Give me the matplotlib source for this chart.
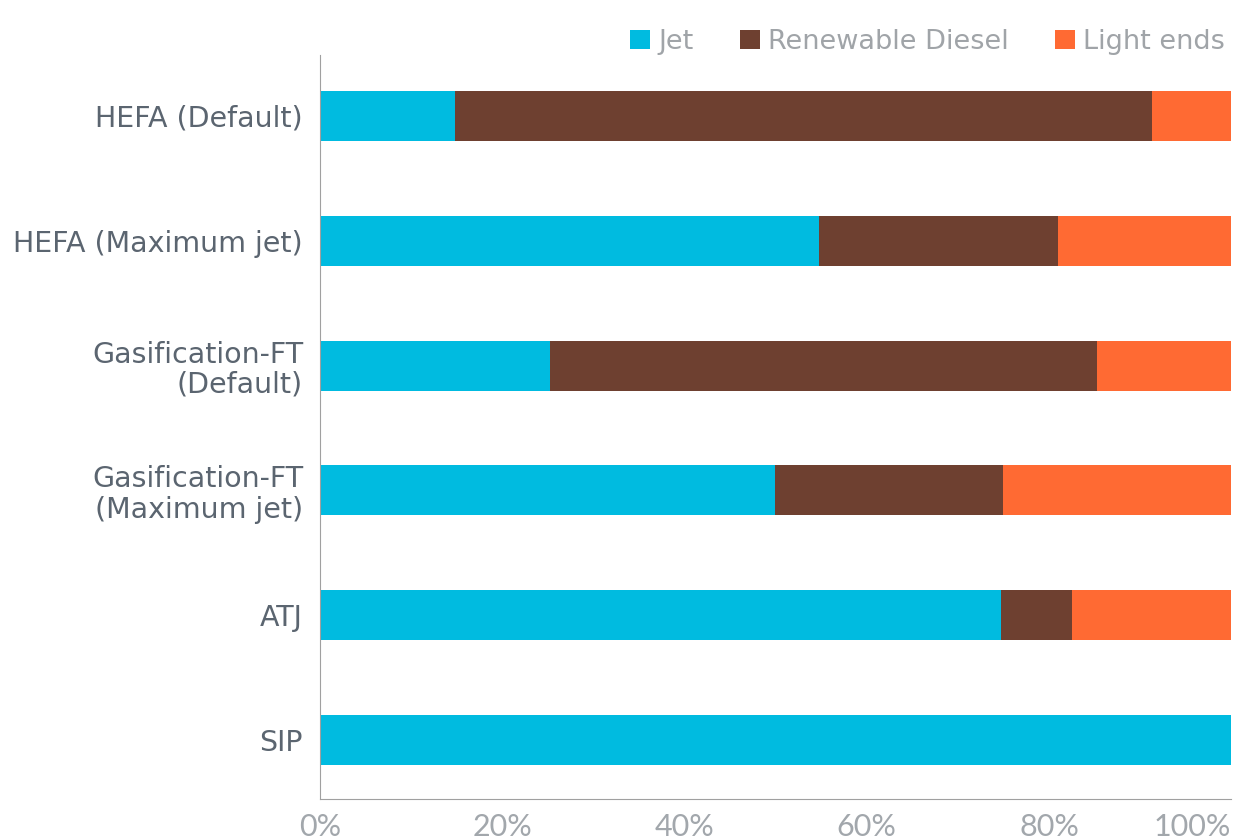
import matplotlib.pyplot as plt
from matplotlib.ticker import PercentFormatter

plt.rcParams['font.family'] = ['DejaVu Sans']

pathways = ['HEFA (Default)', 'HEFA (Maximum jet)', 'Gasification-FT\n(Default)',
            'Gasification-FT\n(Maximum jet)', 'ATJ', 'SIP']
jet = [14.8, 54.8, 25.2, 49.9, 74.7, 100.0]
diesel = [76.5, 26.2, 60.0, 25.0, 7.8, 0.0]
light_ends = [8.7, 19.0, 14.8, 25.1, 17.5, 0.0]

colors = ['#00bbe0', '#6e4030', '#ff6a33']
labels = ['Jet', 'Renewable Diesel', 'Light ends']

fig = plt.figure(figsize=(12.54, 8.4), dpi=100)
ax = fig.add_axes([0.255, 0.049, 0.727, 0.886])

y = range(len(pathways))
left = [0.0] * len(pathways)
for vals, c, lab in zip([jet, diesel, light_ends], colors, labels):
    ax.barh(y, vals, left=left, height=0.4, color=c, label=lab)
    left = [a + b for a, b in zip(left, vals)]

ax.set_ylim(5.47, -0.49)
ax.set_xlim(0, 100)
ax.tick_params(length=0, pad=12)
ax.tick_params(axis='x', pad=10, labelcolor='#a2a7ac', labelsize=22)
ax.set_yticks(list(y))
ax.set_yticklabels(pathways, fontsize=20.5, color='#5b6570', linespacing=1.1)
ax.set_xticks([0, 20, 40, 60, 80, 100])
ax.xaxis.set_major_formatter(PercentFormatter(decimals=0))
fig.canvas.draw()
xt = ax.get_xticklabels()
for t in xt:
    t.set_family('Lato')
xt[-1].set_horizontalalignment('right')
for s in ['top', 'right']:
    ax.spines[s].set_visible(False)
ax.spines['left'].set_color('#a0a0a0')
ax.spines['bottom'].set_color('#a0a0a0')

leg = ax.legend(loc='lower right', bbox_to_anchor=(1.005, 0.985), ncol=3, frameon=False,
                fontsize=19.5, handlelength=0.75, handleheight=0.75, handletextpad=0.3,
                columnspacing=1.7, borderaxespad=0)
for t in leg.get_texts():
    t.set_color('#a0a4a8')

fig.savefig('out.png', dpi=100)
